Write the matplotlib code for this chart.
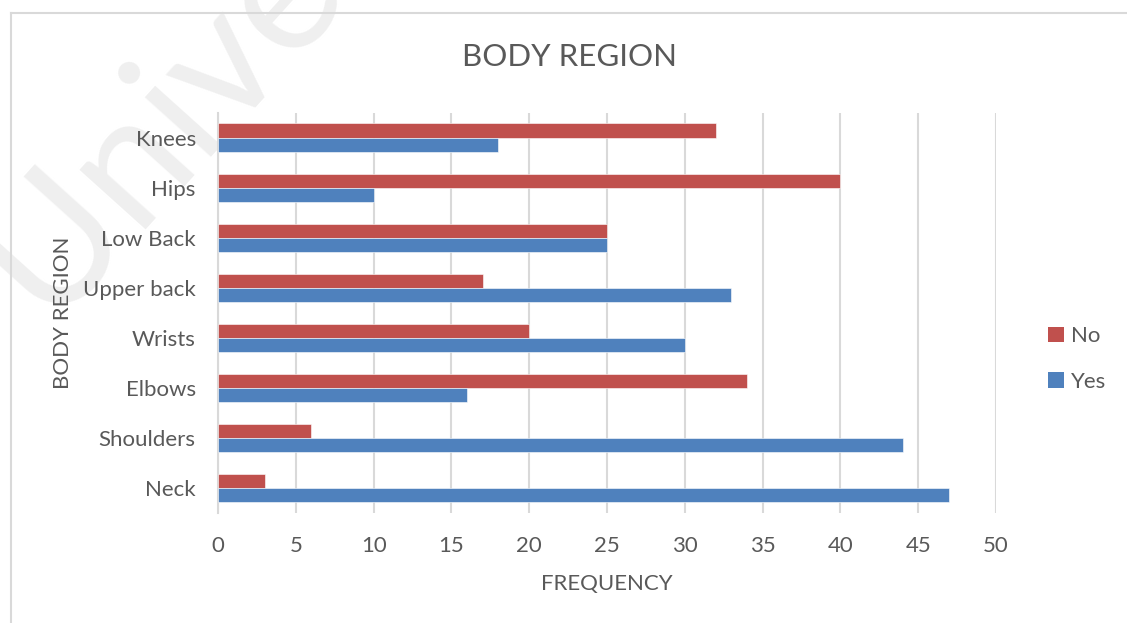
import matplotlib
matplotlib.use("Agg")
import matplotlib.pyplot as plt
from matplotlib.lines import Line2D
from matplotlib.patches import Patch
import numpy as np

plt.rcParams["font.family"] = ["Lato", "DejaVu Sans"]

regions = ["Neck", "Shoulders", "Elbows", "Wrists", "Upper back", "Low Back", "Hips", "Knees"]
yes_counts = [47, 44, 16, 30, 33, 25, 10, 18]
no_counts = [3, 6, 34, 20, 17, 25, 40, 32]
x_ticks = [0, 5, 10, 15, 20, 25, 30, 35, 40, 45, 50]

RED = "#C0504D"
BLUE = "#4F81BD"
GRID = "#D9D9D9"
TEXT = "#595959"
FS = 16

W, H = 1127, 623
fig = plt.figure(figsize=(W / 100, H / 100), dpi=100)
fig.patch.set_facecolor("white")

# faint watermark behind the chart
fig.text(48 / W, 1 - 322 / H, "University", rotation=48, rotation_mode="anchor",
         ha="left", va="baseline", fontsize=125, fontweight="normal",
         color="#EFEFEF", zorder=-5)

# chart area border (top and left edges)
fig.add_artist(Line2D([10.5 / W, 1.0], [1 - 12.5 / H, 1 - 12.5 / H],
                      transform=fig.transFigure, color=GRID, lw=1.5))
fig.add_artist(Line2D([10.5 / W, 10.5 / W], [0.0, 1 - 12.5 / H],
                      transform=fig.transFigure, color=GRID, lw=1.5))

ax = fig.add_axes([218 / W, 1 - 512.5 / H, (996 - 218) / W, (512.5 - 112.5) / H])
ax.patch.set_alpha(0)
ax.set_zorder(2)

y = np.arange(len(regions))
h = 0.28
ax.barh(y + h / 2, no_counts, height=h, color=RED, label="No", zorder=3,
        edgecolor="white", linewidth=0.4)
ax.barh(y - h / 2, yes_counts, height=h, color=BLUE, label="Yes", zorder=3,
        edgecolor="white", linewidth=0.4)

ax.set_xlim(0, 50)
ax.set_ylim(-0.5, len(regions) - 0.5)
ax.set_xticks(x_ticks)
ax.set_xticklabels([str(t) for t in x_ticks])
ax.set_yticks(y)
ax.set_yticklabels(regions)
ax.xaxis.grid(True, color=GRID, lw=1.5, zorder=0)
ax.set_axisbelow(True)
for s in ["top", "right", "bottom"]:
    ax.spines[s].set_visible(False)
ax.spines["left"].set_color(GRID)
ax.spines["left"].set_linewidth(1.5)
ax.tick_params(axis="both", length=0, colors=TEXT, labelsize=FS)
ax.tick_params(axis="y", pad=16)
ax.tick_params(axis="x", pad=17)

ax.set_xlabel("FREQUENCY", fontsize=FS, color=TEXT, labelpad=13)
fig.text(63 / W, 1 - 313 / H, "BODY REGION", rotation=90, ha="center", va="center",
         fontsize=FS, color=TEXT)
fig.text(570 / W, 1 - 57 / H, "BODY REGION", ha="center", va="center",
         fontsize=22.5, color=TEXT)

handles = [Patch(facecolor=RED, label="No"), Patch(facecolor=BLUE, label="Yes")]
fig.legend(handles=handles, loc="center left", bbox_to_anchor=(1028 / W, 1 - 359 / H),
           frameon=False, fontsize=FS, labelcolor=TEXT, handlelength=0.7,
           handleheight=0.7, handletextpad=0.35, labelspacing=1.15)

fig.savefig("out.png", dpi=100, facecolor="white")
